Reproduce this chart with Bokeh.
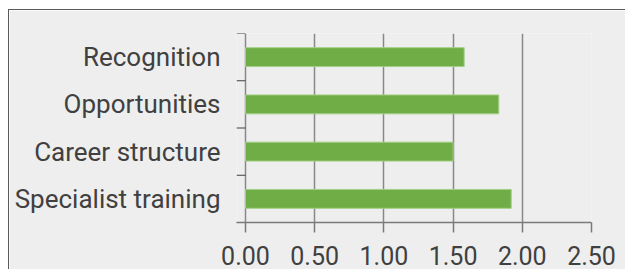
from bokeh.plotting import figure
from bokeh.models import FactorRange, Range1d, FixedTicker
from bokeh.embed import file_html
from bokeh.resources import INLINE

# data (bottom to top as drawn)
categories = ["Specialist training", "Career structure", "Opportunities", "Recognition"]
values = [1.92, 1.50, 1.83, 1.58]
x_ticks = [0.0, 0.5, 1.0, 1.5, 2.0, 2.5]
x_tick_labels = ["0.00", "0.50", "1.00", "1.50", "2.00", "2.50"]

FONT = "Roboto"
TXT = "#404040"
BG = "#eeeeee"

p = figure(
    width=617, height=260,
    y_range=FactorRange(*categories),
    x_range=Range1d(-0.065, 2.5),
    output_backend="svg", toolbar_location=None,
    min_border_left=227, min_border_right=35, min_border_top=23, min_border_bottom=48,
    background_fill_color=BG, border_fill_color=BG,
)
p.styles = {"margin-left": "8px", "margin-top": "9px",
            "border-left": "1px solid #595959", "border-top": "1px solid #595959"}
p.outline_line_color = None

p.hbar(y=categories, left=0, right=values, height=0.4,
       fill_color="#70AD47", line_color="#a3cf86", line_width=1)

# category boundary ticks on the value-zero axis
bounds = list(range(len(categories) + 1))
p.segment(x0=[-0.065] * len(bounds), x1=[0] * len(bounds), y0=bounds, y1=bounds,
          line_color="#404040", line_width=1)

# x axis
xa = p.xaxis[0]
xa.ticker = FixedTicker(ticks=x_ticks)
xa.major_label_overrides = {t: l for t, l in zip(x_ticks, x_tick_labels)}
xa.minor_tick_line_color = None
xa.major_tick_in = 0
xa.major_tick_out = 10
xa.major_tick_line_color = "#7a7a7a"
xa.major_tick_line_width = 1.5
xa.axis_line_color = "#7a7a7a"
xa.axis_line_width = 1.5
xa.major_label_standoff = 13
xa.major_label_text_font = FONT
xa.major_label_text_font_size = "25px"
xa.major_label_text_color = TXT

# y axis (labels only)
ya = p.yaxis[0]
ya.axis_line_color = None
ya.major_tick_line_color = None
ya.minor_tick_line_color = None
ya.major_tick_out = 0
ya.major_tick_in = 0
ya.major_label_standoff = 16
ya.major_label_text_font = FONT
ya.major_label_text_font_size = "26px"
ya.major_label_text_color = TXT

# grid
p.xgrid.ticker = FixedTicker(ticks=x_ticks)
p.xgrid.grid_line_color = "#888888"
p.xgrid.grid_line_width = 1.5
p.ygrid.grid_line_color = None

open("out.html", "w").write(file_html(p, INLINE))
